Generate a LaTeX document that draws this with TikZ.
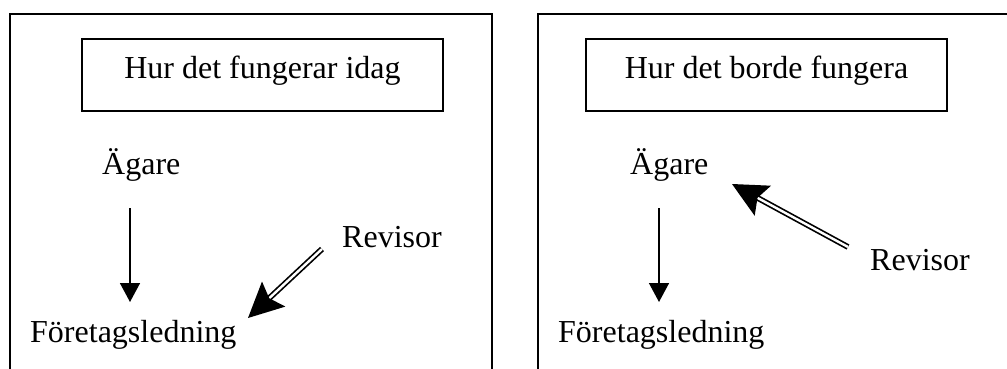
\documentclass[tikz,border=0pt]{standalone}
\usepackage{fontspec}
\setmainfont{Liberation Serif}
\usetikzlibrary{arrows.meta}
\begin{document}
\begin{tikzpicture}[x=1pt,y=-1pt,
  lbl/.style={inner sep=0pt,anchor=base west,font=\fontsize{32}{38}\selectfont},
  titlebox/.style={draw,line width=1.5pt,minimum width=361pt,minimum height=72pt,inner sep=0pt,
    text height=22pt,text depth=14pt,font=\fontsize{32}{38}\selectfont},
  frame/.style={line width=1.5pt},
  downarrow/.style={line width=1.5pt,-{Triangle[width=20pt,length=19pt]}},
  dblarrow/.style={double,line width=1.7pt,double distance=2.4pt,-{Stealth[width=34pt,length=35pt,inset=6pt]}}]
\useasboundingbox (0,0) rectangle (1007,369);
% frames
\draw[frame] (10,369) -- (10,14) -- (492,14) -- (492,369);
\draw[frame] (538,369) -- (538,14) -- (1007,14);
% left panel
\node[titlebox] (t1) at (262.5,75) {Hur det fungerar idag};
\node[lbl] (ag1) at (102,174) {Ägare};
\node[lbl] (fl1) at (30,342) {Företagsledning};
\node[lbl] (rv1) at (342,247) {Revisor};
\coordinate (a1s) at (130,208);
\coordinate (a1e) at (130,302);
\coordinate (r1s) at (322,249);
\coordinate (r1e) at (248,318);
\draw[downarrow] (a1s) -- (a1e);
\draw[dblarrow] (r1s) -- (r1e);
% right panel
\node[titlebox] (t2) at (766.5,75) {Hur det borde fungera};
\node[lbl] (ag2) at (630,174) {Ägare};
\node[lbl] (fl2) at (558,342) {Företagsledning};
\node[lbl] (rv2) at (870,270) {Revisor};
\coordinate (a2s) at (659,208);
\coordinate (a2e) at (659,302);
\coordinate (r2s) at (848,247);
\coordinate (r2e) at (732,184);
\draw[downarrow] (a2s) -- (a2e);
\draw[dblarrow] (r2s) -- (r2e);
\end{tikzpicture}
\end{document}
